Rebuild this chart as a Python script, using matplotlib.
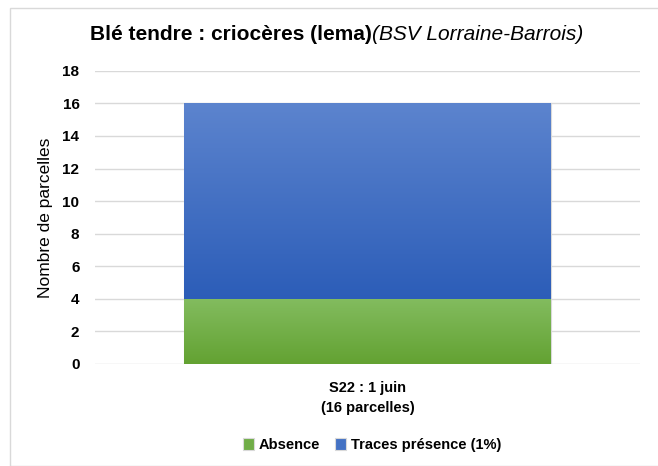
import numpy as np
import matplotlib.pyplot as plt
from matplotlib.colors import to_rgb
from matplotlib.patches import Rectangle

# Data
categories = ["S22 : 1 juin\n(16 parcelles)"]
absence = [4]
traces = [12]
series_names = ["Absence", "Traces présence (1%)"]
yticks = [0, 2, 4, 6, 8, 10, 12, 14, 16, 18]

font_main = ["Liberation Sans", "DejaVu Sans"]

fig = plt.figure(figsize=(6.58, 4.66), dpi=100)
ax = fig.add_axes([0.144, 0.219, 0.829, 0.629])

x = np.arange(len(categories))
width = 0.672
bars_abs = ax.bar(x, absence, width, color="#70ad47", label=series_names[0], zorder=2)
bars_tr = ax.bar(x, traces, width, bottom=absence, color="#4472c4", label=series_names[1], zorder=2)


def gradient_fill(bars, top_col, bot_col):
    # vertical gradient clipped to each bar
    for b in bars:
        x0, y0 = b.get_x(), b.get_y()
        w, h = b.get_width(), b.get_height()
        grad = np.linspace(0, 1, 256).reshape(-1, 1)
        c1 = np.array(to_rgb(bot_col))
        c2 = np.array(to_rgb(top_col))
        img = c1 + grad[..., None] * (c2 - c1)
        im = ax.imshow(img, extent=[x0, x0 + w, y0, y0 + h], origin="lower",
                       aspect="auto", zorder=3)
        im.set_clip_path(b)
        b.set_edgecolor("#d9d9d9")
        b.set_linewidth(0.8)


gradient_fill(bars_abs, "#83bc5f", "#63a232")
gradient_fill(bars_tr, "#5c84ce", "#2c5db8")

ax.set_xlim(-0.5, 0.5)
ax.set_ylim(0, 18)
ax.set_yticks(yticks)
ax.set_yticklabels([str(t) for t in yticks], fontfamily=font_main,
                   fontweight="bold", fontsize=11)
ax.set_xticks(x)
ax.set_xticklabels(categories, fontfamily=font_main, fontweight="bold",
                   fontsize=10.5, linespacing=1.6)
ax.tick_params(axis="y", length=0, pad=11)
ax.tick_params(axis="x", length=0, pad=12)
ax.yaxis.grid(True, color="#d9d9d9", linewidth=1, zorder=0)
ax.set_axisbelow(True)
for s in ax.spines.values():
    s.set_visible(False)

ax.set_ylabel("Nombre de parcelles", fontsize=12.5, fontfamily="Liberation Sans")
ax.yaxis.set_label_coords(-0.077, 0.5)

# Title: bold part + italic part, fitted to about 495 px wide
size = 15
t1 = fig.text(0, 0.925, "Blé tendre : criocères (lema)", fontfamily=font_main,
              fontweight="bold", fontsize=size, va="center", ha="left")
t2 = fig.text(0, 0.925, "(BSV Lorraine-Barrois)", fontfamily=font_main,
              fontstyle="italic", fontsize=size, va="center", ha="left")
fig.canvas.draw()
total = t1.get_window_extent().width + t2.get_window_extent().width
size = size * 495 / total
t1.set_fontsize(size)
t2.set_fontsize(size)
fig.canvas.draw()
w1 = t1.get_window_extent().width
t1.set_x(90 / 658)
t2.set_x((90 + w1) / 658)

leg = fig.legend(loc="center", bbox_to_anchor=(0.565, 0.045), ncol=2, frameon=False,
                 prop={"family": font_main, "weight": "bold", "size": 10.5},
                 handlelength=0.8, handleheight=0.8, handletextpad=0.3, columnspacing=1.0)

# outer chart border
fig.patches.append(Rectangle((0.015, 0.0), 0.99, 0.983, transform=fig.transFigure,
                             fill=False, edgecolor="#d9d9d9", linewidth=1))

fig.savefig("out.png", dpi=100)
